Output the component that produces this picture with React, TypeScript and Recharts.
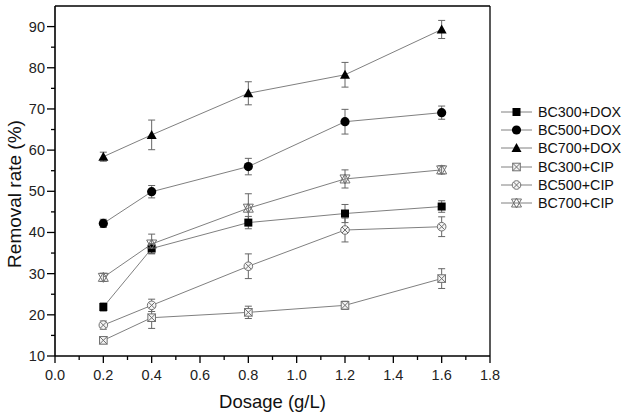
import { ComposedChart, Line, XAxis, YAxis, ErrorBar, ReferenceLine, Legend } from "recharts";

const FONT = "'Liberation Sans', Arial, sans-serif";

const dosage = [0.2, 0.4, 0.8, 1.2, 1.6];

const bc300Dox = [21.9, 36.1, 42.4, 44.6, 46.3];
const bc300DoxErr = [1.0, 1.2, 1.5, 2.2, 1.4];
const bc500Dox = [42.2, 49.9, 56.0, 66.9, 69.1];
const bc500DoxErr = [1.0, 1.5, 2.0, 3.0, 1.6];
const bc700Dox = [58.4, 63.7, 73.8, 78.3, 89.3];
const bc700DoxErr = [1.1, 3.6, 2.8, 3.0, 2.2];
const bc300Cip = [13.8, 19.3, 20.6, 22.3, 28.8];
const bc300CipErr = [0.8, 2.6, 1.5, 1.0, 2.4];
const bc500Cip = [17.5, 22.3, 31.8, 40.6, 41.4];
const bc500CipErr = [1.0, 1.5, 3.0, 2.9, 2.4];
const bc700Cip = [29.1, 37.2, 45.9, 53.0, 55.2];
const bc700CipErr = [1.0, 2.4, 3.5, 2.2, 1.0];

const xTicks = [0, 0.1, 0.2, 0.3, 0.4, 0.5, 0.6, 0.7, 0.8, 0.9, 1.0, 1.1, 1.2, 1.3, 1.4, 1.5, 1.6, 1.7, 1.8];
const yTicks = [10, 15, 20, 25, 30, 35, 40, 45, 50, 55, 60, 65, 70, 75, 80, 85, 90];

type Shape = "square" | "circle" | "triangle" | "boxX" | "circleX" | "star";

const series: { key: string; name: string; values: number[]; errors: number[]; shape: Shape }[] = [
  { key: "s1", name: "BC300+DOX", values: bc300Dox, errors: bc300DoxErr, shape: "square" },
  { key: "s2", name: "BC500+DOX", values: bc500Dox, errors: bc500DoxErr, shape: "circle" },
  { key: "s3", name: "BC700+DOX", values: bc700Dox, errors: bc700DoxErr, shape: "triangle" },
  { key: "s4", name: "BC300+CIP", values: bc300Cip, errors: bc300CipErr, shape: "boxX" },
  { key: "s5", name: "BC500+CIP", values: bc500Cip, errors: bc500CipErr, shape: "circleX" },
  { key: "s6", name: "BC700+CIP", values: bc700Cip, errors: bc700CipErr, shape: "star" },
];

const rows = dosage.map((x, i) => {
  const r: Record<string, number> = { x };
  series.forEach((s) => {
    r[s.key] = s.values[i];
    r[s.key + "e"] = s.errors[i];
  });
  return r;
});

const LINE = "#808080";
const OPEN = "#707070";

function Marker({ shape, cx, cy }: { shape: Shape; cx: number; cy: number }) {
  switch (shape) {
    case "square":
      return <rect x={cx - 4} y={cy - 4} width={8} height={8} fill="#000" />;
    case "circle":
      return <circle cx={cx} cy={cy} r={4.6} fill="#000" />;
    case "triangle":
      return <polygon points={`${cx},${cy - 5} ${cx + 5},${cy + 4} ${cx - 5},${cy + 4}`} fill="#000" />;
    case "boxX":
      return (
        <g stroke={OPEN} strokeWidth={1} fill="#f4f4f4">
          <rect x={cx - 3.8} y={cy - 3.8} width={7.6} height={7.6} />
          <line x1={cx - 3.8} y1={cy - 3.8} x2={cx + 3.8} y2={cy + 3.8} />
          <line x1={cx + 3.8} y1={cy - 3.8} x2={cx - 3.8} y2={cy + 3.8} />
        </g>
      );
    case "circleX":
      return (
        <g stroke={OPEN} strokeWidth={1} fill="#f4f4f4">
          <circle cx={cx} cy={cy} r={4.3} />
          <line x1={cx - 3} y1={cy - 3} x2={cx + 3} y2={cy + 3} />
          <line x1={cx + 3} y1={cy - 3} x2={cx - 3} y2={cy + 3} />
        </g>
      );
    default:
      return (
        <g stroke={OPEN} strokeWidth={1} fill="none">
          <polygon points={`${cx},${cy - 5} ${cx + 5},${cy + 4} ${cx - 5},${cy + 4}`} />
          <polygon points={`${cx},${cy + 5} ${cx + 5},${cy - 4} ${cx - 5},${cy - 4}`} />
        </g>
      );
  }
}

const TICK_MARGIN = 2;
const X_TICK = 7;
const Y_TICK = 8;

function XTick(props: any) {
  const { x, y, payload } = props;
  const v = payload.value as number;
  const major = Math.round(v * 10) % 2 === 0;
  const y0 = y - TICK_MARGIN - X_TICK;
  return (
    <g>
      <line x1={x} x2={x} y1={y0} y2={y0 + (major ? X_TICK : 4)} stroke="#000" strokeWidth={1.3} />
      {major && (
        <text x={x} y={y0 + 23.5} textAnchor="middle" fontSize={14.5} fill="#222" fontFamily={FONT}>
          {v.toFixed(1)}
        </text>
      )}
    </g>
  );
}

function YTick(props: any) {
  const { x, y, payload } = props;
  const v = payload.value as number;
  const major = v % 10 === 0;
  const x0 = x + TICK_MARGIN + Y_TICK;
  return (
    <g>
      <line x1={x0} x2={x0 - (major ? Y_TICK : 4)} y1={y} y2={y} stroke="#000" strokeWidth={1.3} />
      {major && (
        <text x={x0 - Y_TICK - 2} y={y + 5} textAnchor="end" fontSize={14.5} fill="#222" fontFamily={FONT}>
          {v}
        </text>
      )}
    </g>
  );
}

function YTitle(props: any) {
  const vb = props.viewBox;
  const cx = vb.x + 10;
  const cy = vb.y + vb.height / 2 + 13;
  return (
    <text
      x={cx}
      y={cy}
      transform={`rotate(-90, ${cx}, ${cy})`}
      textAnchor="middle"
      dominantBaseline="central"
      fontSize={19}
      fill="#111"
      fontFamily={FONT}
    >
      Removal rate (%)
    </text>
  );
}

function LegendBox() {
  return (
    <div style={{ fontFamily: FONT, fontSize: 14.3, color: "#111" }}>
      {series.map((s) => (
        <div key={s.key} style={{ display: "flex", alignItems: "center", height: 18.2 }}>
          <svg width={36} height={18} style={{ display: "block" }}>
            <line x1={3} x2={34} y1={9} y2={9} stroke={LINE} strokeWidth={1} />
            <Marker shape={s.shape} cx={18.5} cy={9} />
          </svg>
          <span style={{ marginLeft: 4, whiteSpace: "nowrap" }}>{s.name}</span>
        </div>
      ))}
    </div>
  );
}

export default function App() {
  return (
    <div style={{ position: "absolute", left: 0, top: 0, width: 630, height: 417, background: "#fff" }}>
      <ComposedChart width={630} height={417} data={rows} margin={{ top: 6, right: 140, bottom: 0, left: 4 }}>
        <XAxis
          dataKey="x"
          type="number"
          domain={[0, 1.8]}
          ticks={xTicks}
          interval={0}
          height={61}
          tickSize={X_TICK}
          tickMargin={TICK_MARGIN}
          tickLine={false}
          tick={<XTick />}
          axisLine={{ stroke: "#000", strokeWidth: 1.6 }}
          label={{ value: "Dosage (g/L)", position: "insideBottom", offset: 9, style: { fontSize: 18.5, fill: "#111", fontFamily: FONT } }}
        />
        <YAxis
          type="number"
          domain={[10, 95]}
          ticks={yTicks}
          interval={0}
          width={51}
          tickSize={Y_TICK}
          tickMargin={TICK_MARGIN}
          tickLine={false}
          tick={<YTick />}
          axisLine={{ stroke: "#000", strokeWidth: 1.6 }}
          label={<YTitle />}
        />
        <ReferenceLine y={95} stroke="#000" strokeWidth={1.3} />
        <ReferenceLine x={1.8} stroke="#000" strokeWidth={1.3} />
        {series.map((s) => (
          <Line
            key={s.key}
            dataKey={s.key}
            name={s.name}
            type="linear"
            stroke={LINE}
            strokeWidth={1}
            isAnimationActive={false}
            activeDot={false}
            dot={(p: any) => <Marker key={`${s.key}-${p.index}`} shape={s.shape} cx={p.cx} cy={p.cy} />}
          >
            <ErrorBar dataKey={s.key + "e"} width={3.5} stroke="#666" strokeWidth={1} direction="y" />
          </Line>
        ))}
        <Legend
          layout="vertical"
          align="center"
          verticalAlign="middle"
          content={() => <LegendBox />}
          wrapperStyle={{ left: 498, top: 103, width: 132 }}
        />
      </ComposedChart>
    </div>
  );
}
